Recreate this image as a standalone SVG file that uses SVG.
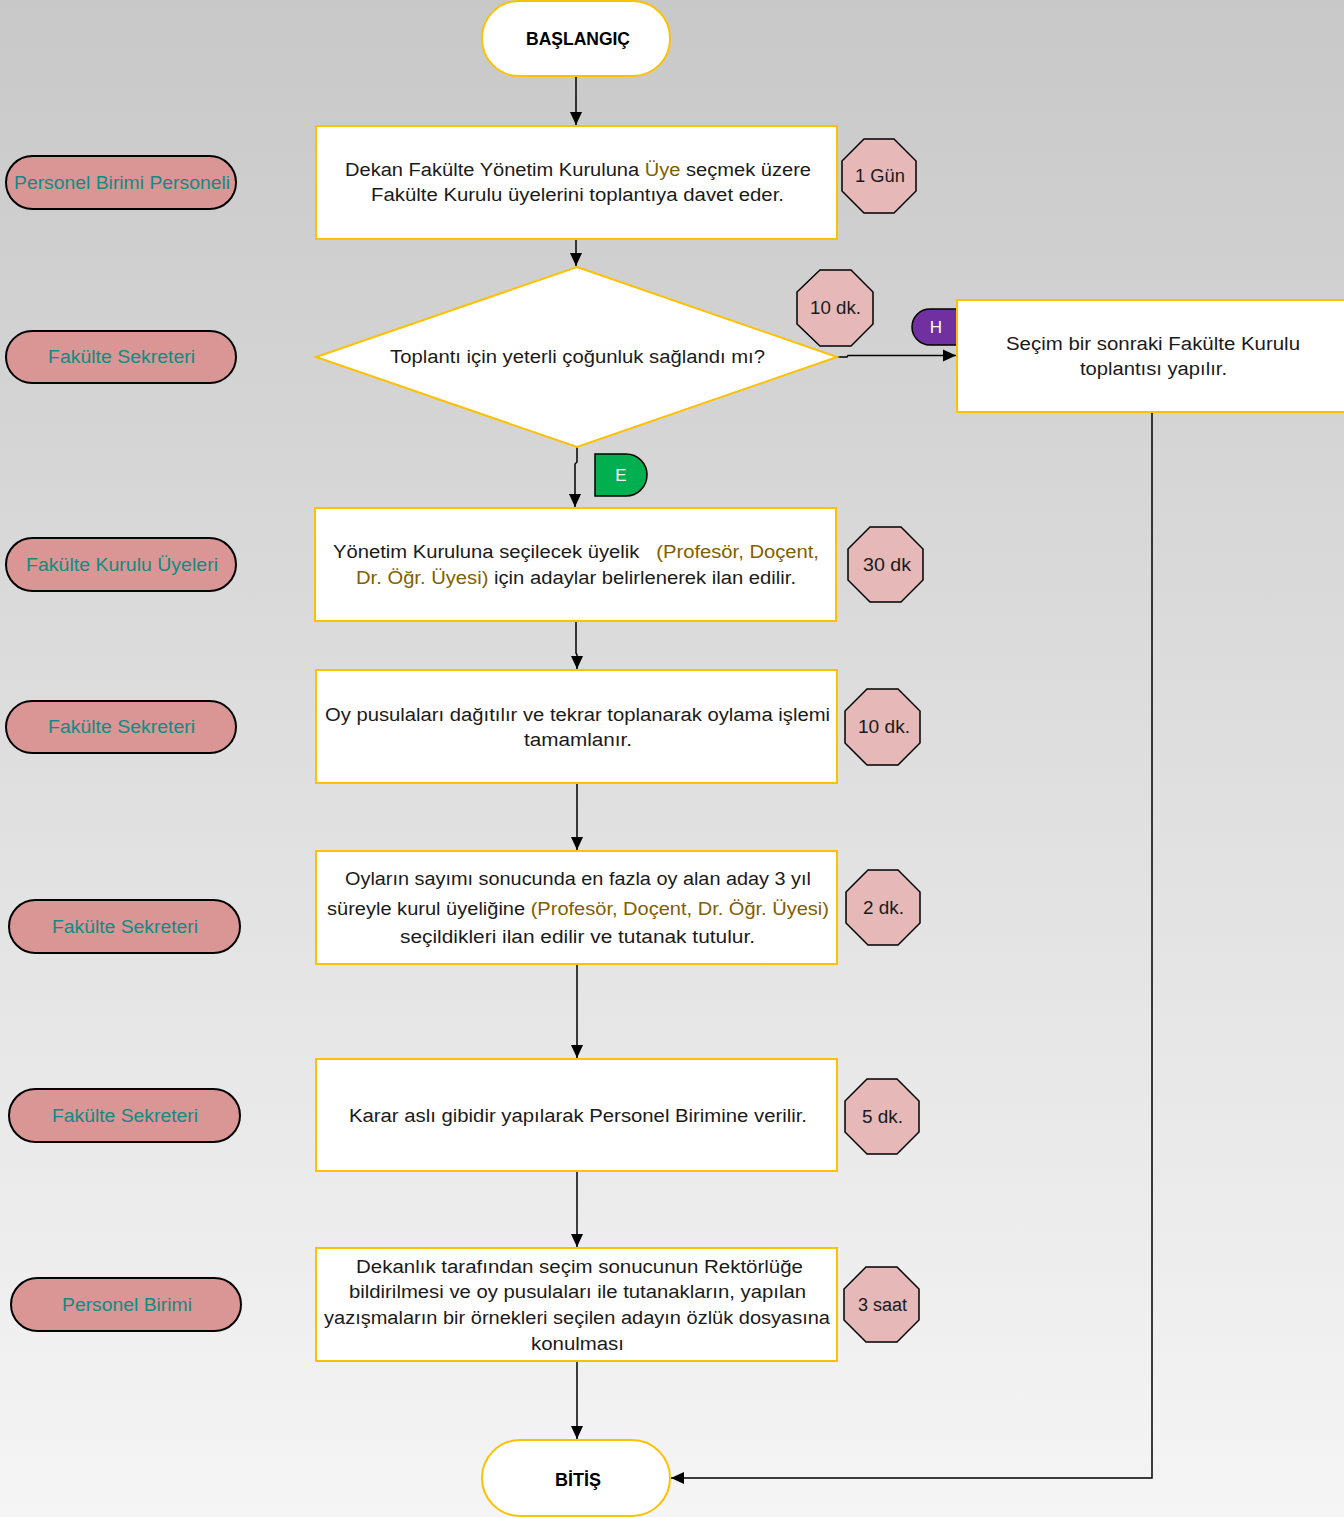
<svg xmlns="http://www.w3.org/2000/svg" width="1344" height="1517" viewBox="0 0 1344 1517">
<defs>
<linearGradient id="bg" x1="0" y1="0" x2="0" y2="1">
<stop offset="0" stop-color="#c8c8c8"/>
<stop offset="1" stop-color="#f5f5f5"/>
</linearGradient>
<marker id="arr" markerUnits="userSpaceOnUse" markerWidth="14" markerHeight="14" refX="13" refY="7" orient="auto">
<path d="M0,1 L13,7 L0,13 Z" fill="#000"/>
</marker>
</defs>
<style>
.t{font-family:"Liberation Sans",Arial,sans-serif;font-size:18px;fill:#1a1a1a;text-anchor:middle}
.b{font-weight:bold;fill:#000}
.ol{fill:#7f6000}
.role{font-family:"Liberation Sans",Arial,sans-serif;font-size:18px;fill:#128a84;text-anchor:middle}
.tab{font-family:"Liberation Sans",Arial,sans-serif;font-size:17px;fill:#fff;text-anchor:middle}
.box{fill:#fff;stroke:#ffc000;stroke-width:2}
.term{fill:#fff;stroke:#ffc000;stroke-width:2}
.oct{fill:#e6b9b8;stroke:#000;stroke-width:1.5}
.pill{fill:#d99694;stroke:#000;stroke-width:2}
.c{fill:none;stroke:#000;stroke-width:1.5}
</style>
<rect x="0" y="0" width="1344" height="1517" fill="url(#bg)"/>

<g id="connectors">
<path class="c" d="M576,76 V125" marker-end="url(#arr)"/>
<path class="c" d="M576,239 V266" marker-end="url(#arr)"/>
<path class="c" d="M837,357 H847 L848,355.5 H956" marker-end="url(#arr)"/>
<path class="c" d="M577,447 V462 L575,464 V507" marker-end="url(#arr)"/>
<path class="c" d="M576,621 V653 L577,655 V669" marker-end="url(#arr)"/>
<path class="c" d="M577,783 V850" marker-end="url(#arr)"/>
<path class="c" d="M577,964 V1058" marker-end="url(#arr)"/>
<path class="c" d="M577,1171 V1247" marker-end="url(#arr)"/>
<path class="c" d="M577,1361 V1439" marker-end="url(#arr)"/>
<path class="c" d="M1152,412 V1478 H671" marker-end="url(#arr)"/>
</g>

<g id="start">
<rect class="term" x="482" y="1" width="188" height="75" rx="37" ry="37"/>
<text class="t b" x="578" y="45" textLength="104" lengthAdjust="spacingAndGlyphs">BAŞLANGIÇ</text>
</g>

<g id="step1">
<rect class="box" x="316" y="126" width="521" height="113"/>
<text class="t" x="578" y="176" textLength="466" lengthAdjust="spacingAndGlyphs">Dekan Fakülte Yönetim Kuruluna <tspan class="ol">Üye</tspan> seçmek üzere</text>
<text class="t" x="577.5" y="201" textLength="413" lengthAdjust="spacingAndGlyphs">Fakülte Kurulu üyelerini toplantıya davet eder.</text>
</g>

<g id="time1">
<polygon class="oct" points="864,139 894,139 916,161 916,191 894,213 864,213 842,191 842,161"/>
<text class="t" x="880" y="182" textLength="50" lengthAdjust="spacingAndGlyphs">1 Gün</text>
</g>

<g id="role1">
<rect class="pill" x="6" y="156" width="230" height="53" rx="26.5" ry="26.5"/>
<text class="role" x="122" y="189" textLength="216" lengthAdjust="spacingAndGlyphs">Personel Birimi Personeli</text>
</g>

<g id="decision">
<polygon class="box" points="577,267 837,357 577,447 316,357"/>
<text class="t" x="577.5" y="363" textLength="375" lengthAdjust="spacingAndGlyphs">Toplantı için yeterli çoğunluk sağlandı mı?</text>
</g>

<g id="time2">
<polygon class="oct" points="820,270 851,270 873,292 873,324 851,346 820,346 797,324 797,292"/>
<text class="t" x="835.5" y="314" textLength="51" lengthAdjust="spacingAndGlyphs">10 dk.</text>
</g>

<g id="role2">
<rect class="pill" x="6" y="331" width="230" height="52" rx="26" ry="26"/>
<text class="role" x="121.5" y="363" textLength="147" lengthAdjust="spacingAndGlyphs">Fakülte Sekreteri</text>
</g>

<g id="tabH">
<path d="M957,309 H930 A18,18 0 0 0 930,345 H957 Z" fill="#7030a0" stroke="#000" stroke-width="1.5"/>
<text class="tab" x="936" y="333">H</text>
</g>

<g id="stepNo">
<rect class="box" x="957" y="300" width="400" height="112"/>
<text class="t" x="1153" y="350" textLength="294" lengthAdjust="spacingAndGlyphs">Seçim bir sonraki Fakülte Kurulu</text>
<text class="t" x="1153.5" y="375" textLength="147" lengthAdjust="spacingAndGlyphs">toplantısı yapılır.</text>
</g>

<g id="tabE">
<path d="M595,454 H626 A21,21 0 0 1 626,496 H595 Z" fill="#00b050" stroke="#000" stroke-width="1.5"/>
<text class="tab" x="621" y="481">E</text>
</g>

<g id="step3">
<rect class="box" x="315" y="508" width="521" height="113"/>
<text class="t" x="576" y="558" textLength="486" lengthAdjust="spacingAndGlyphs" xml:space="preserve">Yönetim Kuruluna seçilecek üyelik   <tspan class="ol">(Profesör, Doçent,</tspan></text>
<text class="t" x="576" y="584" textLength="440" lengthAdjust="spacingAndGlyphs"><tspan class="ol">Dr. Öğr. Üyesi)</tspan> için adaylar belirlenerek ilan edilir.</text>
</g>

<g id="time3">
<polygon class="oct" points="870,527 901,527 923,549 923,580 901,602 870,602 848,580 848,549"/>
<text class="t" x="887" y="571" textLength="48" lengthAdjust="spacingAndGlyphs">30 dk</text>
</g>

<g id="role3">
<rect class="pill" x="6" y="538" width="230" height="53" rx="26.5" ry="26.5"/>
<text class="role" x="122" y="571" textLength="192" lengthAdjust="spacingAndGlyphs">Fakülte Kurulu Üyeleri</text>
</g>

<g id="step4">
<rect class="box" x="316" y="670" width="521" height="113"/>
<text class="t" x="577.5" y="721" textLength="505" lengthAdjust="spacingAndGlyphs">Oy pusulaları dağıtılır ve tekrar toplanarak oylama işlemi</text>
<text class="t" x="578" y="746" textLength="108" lengthAdjust="spacingAndGlyphs">tamamlanır.</text>
</g>

<g id="time4">
<polygon class="oct" points="867,689 898,689 920,711 920,743 898,765 867,765 845,743 845,711"/>
<text class="t" x="884" y="733" textLength="52" lengthAdjust="spacingAndGlyphs">10 dk.</text>
</g>

<g id="role4">
<rect class="pill" x="6" y="701" width="230" height="52" rx="26" ry="26"/>
<text class="role" x="121.5" y="733" textLength="147" lengthAdjust="spacingAndGlyphs">Fakülte Sekreteri</text>
</g>

<g id="step5">
<rect class="box" x="316" y="851" width="521" height="113"/>
<text class="t" x="578" y="885" textLength="466" lengthAdjust="spacingAndGlyphs">Oyların sayımı sonucunda en fazla oy alan aday 3 yıl</text>
<text class="t" x="578" y="915" textLength="502" lengthAdjust="spacingAndGlyphs">süreyle kurul üyeliğine <tspan class="ol">(Profesör, Doçent, Dr. Öğr. Üyesi)</tspan></text>
<text class="t" x="577.5" y="943" textLength="355" lengthAdjust="spacingAndGlyphs">seçildikleri ilan edilir ve tutanak tutulur.</text>
</g>

<g id="time5">
<polygon class="oct" points="868,870 898,870 920,892 920,923 898,945 868,945 846,923 846,892"/>
<text class="t" x="883.5" y="914" textLength="41" lengthAdjust="spacingAndGlyphs">2 dk.</text>
</g>

<g id="role5">
<rect class="pill" x="9" y="900" width="231" height="53" rx="26.5" ry="26.5"/>
<text class="role" x="125" y="933" textLength="146" lengthAdjust="spacingAndGlyphs">Fakülte Sekreteri</text>
</g>

<g id="step6">
<rect class="box" x="316" y="1059" width="521" height="112"/>
<text class="t" x="578" y="1122" textLength="458" lengthAdjust="spacingAndGlyphs">Karar aslı gibidir yapılarak Personel Birimine verilir.</text>
</g>

<g id="time6">
<polygon class="oct" points="867,1079 897,1079 919,1101 919,1132 897,1154 867,1154 845,1132 845,1101"/>
<text class="t" x="882.5" y="1123" textLength="41" lengthAdjust="spacingAndGlyphs">5 dk.</text>
</g>

<g id="role6">
<rect class="pill" x="9" y="1089" width="231" height="53" rx="26.5" ry="26.5"/>
<text class="role" x="125" y="1122" textLength="146" lengthAdjust="spacingAndGlyphs">Fakülte Sekreteri</text>
</g>

<g id="step7">
<rect class="box" x="316" y="1248" width="521" height="113"/>
<text class="t" x="579.5" y="1273" textLength="447" lengthAdjust="spacingAndGlyphs">Dekanlık tarafından seçim sonucunun Rektörlüğe</text>
<text class="t" x="577.5" y="1298" textLength="457" lengthAdjust="spacingAndGlyphs">bildirilmesi ve oy pusulaları ile tutanakların, yapılan</text>
<text class="t" x="577" y="1324" textLength="506" lengthAdjust="spacingAndGlyphs">yazışmaların bir örnekleri seçilen adayın özlük dosyasına</text>
<text class="t" x="577.5" y="1350" textLength="93" lengthAdjust="spacingAndGlyphs">konulması</text>
</g>

<g id="time7">
<polygon class="oct" points="866,1267 897,1267 919,1289 919,1320 897,1342 866,1342 844,1320 844,1289"/>
<text class="t" x="882.5" y="1311" textLength="49" lengthAdjust="spacingAndGlyphs">3 saat</text>
</g>

<g id="role7">
<rect class="pill" x="11" y="1278" width="230" height="53" rx="26.5" ry="26.5"/>
<text class="role" x="127" y="1311" textLength="130" lengthAdjust="spacingAndGlyphs">Personel Birimi</text>
</g>

<g id="end">
<rect class="term" x="482" y="1440" width="188" height="76" rx="38" ry="38"/>
<text class="t b" x="578" y="1486" textLength="46" lengthAdjust="spacingAndGlyphs">BİTİŞ</text>
</g>
</svg>
